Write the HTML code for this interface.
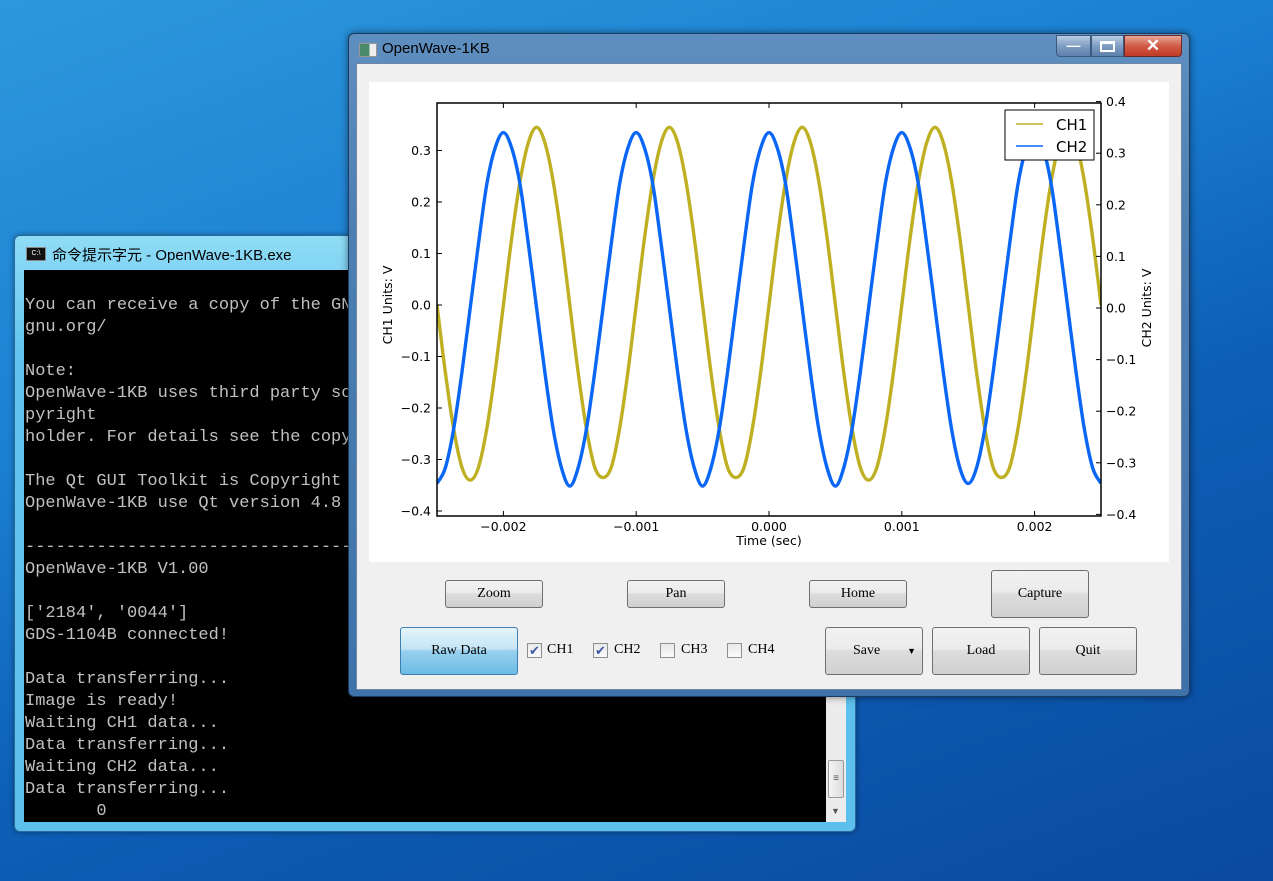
<!DOCTYPE html>
<html><head><meta charset="utf-8"><style>
*{margin:0;padding:0;box-sizing:border-box}
body{width:1273px;height:881px;overflow:hidden;position:relative;font-family:"Liberation Sans","Noto Sans CJK TC",sans-serif;
background:linear-gradient(160deg,#2d98dc 0%,#1b7fd2 35%,#0d5fb6 60%,#0a4aa0 100%);}
.abs{position:absolute}
.btn{position:absolute;border:1px solid #707070;border-radius:3px;background:linear-gradient(#f2f2f2 0%,#ebebeb 45%,#dddddd 50%,#d0d0d0 100%);font-family:"Liberation Serif",serif;font-size:14px;color:#000;display:flex;align-items:center;justify-content:center}
.cb{position:absolute;width:15px;height:15px;border:1px solid #8e8f8f;background:linear-gradient(#e8e8e8,#fafafa);font-size:13px;color:#3a5aa8;line-height:13px;text-align:center}
.cbl{position:absolute;font-family:"Liberation Serif",serif;font-size:14px}
.con{position:absolute;left:24px;top:270px;width:802px;height:552px;background:#000;overflow:hidden;font-family:"Liberation Mono",monospace;font-size:17px;color:#c0c0c0;line-height:22px;padding-top:25px;padding-left:1px;white-space:pre}
</style></head><body>
<div class="abs" style="left:14px;top:235px;width:842px;height:597px;background:linear-gradient(#8fdcf6,#62c4ee 20%,#5cbfec);border:1px solid #2a6a9a;border-radius:6px;box-shadow:0 0 6px rgba(0,0,0,.4)">
 <div class="abs" style="left:11px;top:11px;width:20px;height:14px;background:#111;border:1px solid #888;color:#fff;font-size:7px;line-height:12px;text-align:center">C:\</div>
 <div class="abs" style="left:37px;top:8px;font-size:15px;color:#000">命令提示字元 - OpenWave-1KB.exe</div>
</div>
<div class="con">You can receive a copy of the GN
gnu.org/

Note:
OpenWave-1KB uses third party so
pyright
holder. For details see the copy

The Qt GUI Toolkit is Copyright
OpenWave-1KB use Qt version 4.8

--------------------------------
OpenWave-1KB V1.00

['2184', '0044']
GDS-1104B connected!

Data transferring...
Image is ready!
Waiting CH1 data...
Data transferring...
Waiting CH2 data...
Data transferring...
       0</div>
<div class="abs" style="left:826px;top:270px;width:20px;height:552px;background:#ececec">
 <div class="abs" style="left:2px;top:490px;width:16px;height:38px;background:linear-gradient(90deg,#f4f4f4,#dcdcdc);border:1px solid #999;border-radius:2px;font-size:10px;text-align:center;line-height:36px;color:#555">≡</div>
 <div class="abs" style="left:5px;top:536px;font-size:9px;color:#555">▼</div>
</div>

<div class="abs" style="left:348px;top:33px;width:842px;height:664px;background:linear-gradient(#5f8fbf,#4d7fb3 30%,#3f72aa);border:1px solid #1d3b5e;border-radius:6px;box-shadow:0 0 8px rgba(0,0,0,.5)">
 <div class="abs" style="left:10px;top:9px;width:18px;height:14px;background:linear-gradient(90deg,#4a8a6a 60%,#eee 60%);border:1px solid #999"></div>
 <div class="abs" style="left:33px;top:6px;font-size:15px;color:#000">OpenWave-1KB</div>
 <div class="abs" style="left:707px;top:1px;width:35px;height:22px;border:1px solid #3b5a80;border-radius:0 0 0 4px;background:linear-gradient(#b9cde3,#7f9dc2 50%,#5d80ad);color:#fff;text-align:center;font-size:14px;line-height:18px;font-weight:bold">—</div>
 <div class="abs" style="left:742px;top:1px;width:33px;height:22px;border:1px solid #3b5a80;background:linear-gradient(#b9cde3,#7f9dc2 50%,#5d80ad);"><div style="margin:5px auto;width:15px;height:11px;border:2px solid #fff;border-top-width:3px"></div></div>
 <div class="abs" style="left:775px;top:1px;width:58px;height:22px;border:1px solid #6a2a2a;border-radius:0 0 4px 0;background:linear-gradient(#e8a89a,#d05a45 50%,#c23a25);color:#fff;text-align:center;font-size:17px;line-height:20px;font-weight:bold">✕</div>
 <div class="abs" style="left:7px;top:29px;width:826px;height:627px;background:#f0f0f0;border:1px solid #6d87a6"></div>
</div>

<svg class="abs" style="left:369px;top:82px" width="800" height="480" id="chart" font-family="DejaVu Sans, Liberation Sans, sans-serif" font-size="12.5"></svg>

<div class="btn" style="left:445px;top:580px;width:98px;height:28px">Zoom</div>
<div class="btn" style="left:627px;top:580px;width:98px;height:28px">Pan</div>
<div class="btn" style="left:809px;top:580px;width:98px;height:28px">Home</div>
<div class="btn" style="left:991px;top:570px;width:98px;height:48px">Capture</div>
<div class="btn" style="left:400px;top:627px;width:118px;height:48px;border-color:#3c7fb1;background:linear-gradient(#e5f4fc 0%,#c4e5f6 45%,#98d1ef 50%,#6cbbe4 100%)">Raw Data</div>
<div class="cb" style="left:527px;top:643px">✔</div><div class="cbl" style="left:547px;top:642px">CH1</div>
<div class="cb" style="left:593px;top:643px">✔</div><div class="cbl" style="left:614px;top:642px">CH2</div>
<div class="cb" style="left:660px;top:643px"></div><div class="cbl" style="left:681px;top:642px">CH3</div>
<div class="cb" style="left:727px;top:643px"></div><div class="cbl" style="left:748px;top:642px">CH4</div>
<div class="btn" style="left:825px;top:627px;width:98px;height:48px;justify-content:flex-start;padding-left:27px">Save<span style="position:absolute;right:6px;font-size:9px">▼</span></div>
<div class="btn" style="left:932px;top:627px;width:98px;height:48px">Load</div>
<div class="btn" style="left:1039px;top:627px;width:98px;height:48px">Quit</div>

<script>
const xTicks=[-0.002,-0.001,0.000,0.001,0.002];
const xTickLabels=["\u22120.002","\u22120.001","0.000","0.001","0.002"];
const yLeftTicks=[0.3,0.2,0.1,0.0,-0.1,-0.2,-0.3,-0.4];
const yLeftLabels=["0.3","0.2","0.1","0.0","\u22120.1","\u22120.2","\u22120.3","\u22120.4"];
const yRightTicks=[0.4,0.3,0.2,0.1,0.0,-0.1,-0.2,-0.3,-0.4];
const yRightLabels=["0.4","0.3","0.2","0.1","0.0","\u22120.1","\u22120.2","\u22120.3","\u22120.4"];
const tStart=-0.0025, tStep=0.0000625;
const ch1=[0,-0.13,-0.24,-0.315,-0.34,-0.315,-0.24,-0.13,0,0.13,0.24,0.315,0.345,0.315,0.24,0.13,
0,-0.13,-0.24,-0.315,-0.335,-0.315,-0.24,-0.13,0,0.13,0.24,0.315,0.345,0.315,0.24,0.13,
0,-0.13,-0.24,-0.315,-0.335,-0.315,-0.24,-0.13,0,0.13,0.24,0.315,0.345,0.315,0.24,0.13,
0,-0.13,-0.24,-0.315,-0.34,-0.315,-0.24,-0.13,0,0.13,0.24,0.315,0.345,0.315,0.24,0.13,
0,-0.13,-0.24,-0.315,-0.335,-0.315,-0.24,-0.13,0,0.13,0.24,0.315,0.345,0.315,0.24,0.13,0];
const ch2=[-0.34,-0.31,-0.235,-0.125,0,0.125,0.24,0.31,0.34,0.31,0.24,0.125,0,-0.125,-0.235,-0.31,
-0.345,-0.31,-0.235,-0.125,0,0.125,0.24,0.31,0.34,0.31,0.24,0.125,0,-0.125,-0.235,-0.31,
-0.345,-0.31,-0.235,-0.125,0,0.125,0.24,0.31,0.34,0.31,0.24,0.125,0,-0.125,-0.235,-0.31,
-0.345,-0.31,-0.235,-0.125,0,0.125,0.24,0.31,0.34,0.31,0.24,0.125,0,-0.125,-0.235,-0.31,
-0.34,-0.31,-0.235,-0.125,0,0.125,0.24,0.31,0.34,0.31,0.24,0.125,0,-0.125,-0.235,-0.31,-0.34];

const svg=document.getElementById('chart');
const NS='http://www.w3.org/2000/svg';
const X0=68,X1=732,YT=21,YB=434;
const xs=t=>X0+(t-(-0.0025))/0.005*(X1-X0);
const yl=v=>223-v*515;
const yr=v=>226-v*516;
function mk(tag,attrs,text){const e=document.createElementNS(NS,tag);for(const k in attrs)e.setAttribute(k,attrs[k]);if(text!==undefined)e.textContent=text;svg.appendChild(e);return e;}
const bg=mk('rect',{x:0,y:0,width:800,height:480,fill:'#fff'});


function pathFor(vals,ys){
  const pts=vals.map((v,i)=>[xs(tStart+i*tStep),ys(v)]);
  let d='M'+pts[0][0].toFixed(2)+','+pts[0][1].toFixed(2);
  for(let i=0;i<pts.length-1;i++){
    const p0=pts[Math.max(0,i-1)],p1=pts[i],p2=pts[i+1],p3=pts[Math.min(pts.length-1,i+2)];
    const c1=[p1[0]+(p2[0]-p0[0])/6,p1[1]+(p2[1]-p0[1])/6],c2=[p2[0]-(p3[0]-p1[0])/6,p2[1]-(p3[1]-p1[1])/6];
    d+=' C'+c1.map(n=>n.toFixed(2))+' '+c2.map(n=>n.toFixed(2))+' '+p2.map(n=>n.toFixed(2));
  }
  return d;
}
const cp=mk('clipPath',{id:'clip'});
const cr=document.createElementNS(NS,'rect');
cr.setAttribute('x',X0);cr.setAttribute('y',YT);cr.setAttribute('width',X1-X0);cr.setAttribute('height',YB-YT);
cp.appendChild(cr);
const l1=mk('path',{d:pathFor(ch1,yl),fill:'none',stroke:'#bfb023','stroke-width':3.4,'clip-path':'url(#clip)'});


const l2=mk('path',{d:pathFor(ch2,yr),fill:'none',stroke:'#0a66f5','stroke-width':3.4,'clip-path':'url(#clip)'});


const frame=mk('rect',{x:X0,y:YT,width:X1-X0,height:YB-YT,fill:'none',stroke:'#000','stroke-width':1.5});


xTicks.forEach((t,i)=>{const x=xs(t);
  mk('line',{x1:x,x2:x,y1:YB,y2:YB-5,stroke:'#000'});mk('line',{x1:x,x2:x,y1:YT,y2:YT+5,stroke:'#000'});
  const tx=mk('text',{x:x,y:YB+15,'text-anchor':'middle'},xTickLabels[i]);
  
  
});
yLeftTicks.forEach((v,i)=>{const y=yl(v);
  mk('line',{x1:X0,x2:X0+5,y1:y,y2:y,stroke:'#000'});
  const tx=mk('text',{x:X0-6,y:y+4.5,'text-anchor':'end'},yLeftLabels[i]);
  
  
});
yRightTicks.forEach((v,i)=>{const y=yr(v);
  mk('line',{x1:X1,x2:X1-5,y1:y,y2:y,stroke:'#000'});
  const tx=mk('text',{x:X1+5,y:y+4.5,'text-anchor':'start'},yRightLabels[i]);
  
  
});
const xt=mk('text',{x:400,y:463,'text-anchor':'middle'},'Time (sec)');


const ylt=mk('text',{x:0,y:0,'text-anchor':'middle',transform:'translate(23,223) rotate(-90)'},'CH1 Units: V');


const yrt=mk('text',{x:0,y:0,'text-anchor':'middle',transform:'translate(782,226) rotate(-90)'},'CH2 Units: V');


const lg=mk('rect',{x:636,y:28,width:89,height:50,fill:'#fff',stroke:'#000','stroke-width':1});


mk('line',{x1:647,x2:674,y1:42,y2:42,stroke:'#bfb023','stroke-width':1.5});
const le1=mk('text',{x:687,y:48,'font-size':15},'CH1');


mk('line',{x1:647,x2:674,y1:64,y2:64,stroke:'#0a66f5','stroke-width':1.5});
const le2=mk('text',{x:687,y:70,'font-size':15},'CH2');


</script>
</body></html>
